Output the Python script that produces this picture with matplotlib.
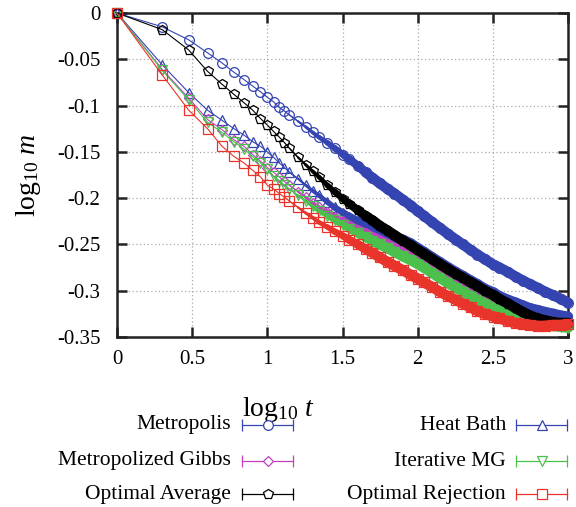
import matplotlib
matplotlib.use("Agg")
import matplotlib.pyplot as plt
from matplotlib.lines import Line2D
from matplotlib.collections import LineCollection
import numpy as np

plt.rcParams["font.family"] = ["Liberation Serif", "DejaVu Serif"]
plt.rcParams["mathtext.fontset"] = "custom"
plt.rcParams["mathtext.rm"] = "Liberation Serif"
plt.rcParams["mathtext.it"] = "Liberation Serif:italic"

# sweep counts t (x axis is log10 t)
t = [1, 2, 3, 4, 5, 6, 7, 8, 9, 10, 11, 12, 13, 14, 16, 18, 20, 22, 25, 28,
     32, 35, 40, 45, 50, 56, 63, 70, 80, 90, 100, 110, 125, 140, 160, 180,
     200, 225, 250, 280, 320, 350, 400, 450, 500, 560, 630, 700, 800, 900, 1000]

# log10 m
metropolis = [0, -.015, -.029, -.043, -.054, -.064, -.072, -.079, -.085, -.091,
              -.096, -.102, -.106, -.110, -.117, -.123, -.129, -.134, -.140, -.146,
              -.153, -.158, -.165, -.172, -.178, -.184, -.190, -.195, -.202, -.208,
              -.214, -.219, -.226, -.232, -.239, -.245, -.250, -.256, -.261, -.266,
              -.272, -.275, -.280, -.285, -.289, -.293, -.297, -.301, -.305, -.309, -.313]
heat_bath = [0, -.056, -.086, -.105, -.116, -.125, -.132, -.139, -.144, -.150,
             -.156, -.162, -.167, -.172, -.179, -.186, -.192, -.197, -.204, -.210,
             -.216, -.220, -.225, -.229, -.233, -.236, -.240, -.243, -.245, -.249,
             -.254, -.258, -.264, -.269, -.275, -.280, -.284, -.289, -.293, -.298,
             -.302, -.306, -.310, -.313, -.316, -.319, -.321, -.323, -.325, -.327, -.328]
metro_gibbs = [0, -.061, -.092, -.115, -.126, -.137, -.144, -.153, -.160, -.167,
               -.172, -.177, -.182, -.186, -.193, -.199, -.205, -.210, -.215, -.220,
               -.225, -.229, -.234, -.238, -.242, -.246, -.250, -.254, -.259, -.263,
               -.267, -.271, -.277, -.282, -.288, -.293, -.297, -.302, -.306, -.310,
               -.315, -.318, -.322, -.325, -.328, -.330, -.332, -.334, -.335, -.336, -.336]
iterative_mg = [0, -.062, -.094, -.118, -.129, -.139, -.147, -.155, -.162, -.169,
                -.176, -.181, -.186, -.190, -.197, -.203, -.209, -.214, -.219, -.224,
                -.229, -.233, -.238, -.242, -.246, -.250, -.254, -.258, -.263, -.267,
                -.271, -.275, -.281, -.286, -.292, -.297, -.301, -.306, -.310, -.314,
                -.319, -.322, -.326, -.329, -.331, -.333, -.335, -.337, -.338, -.339, -.340]
opt_average = [0, -.018, -.040, -.063, -.077, -.088, -.097, -.105, -.114, -.121,
               -.128, -.134, -.140, -.146, -.156, -.164, -.171, -.177, -.186, -.193,
               -.201, -.206, -.213, -.219, -.224, -.230, -.235, -.240, -.246, -.251,
               -.256, -.260, -.266, -.271, -.277, -.282, -.286, -.291, -.295, -.300,
               -.305, -.309, -.314, -.319, -.323, -.327, -.330, -.332, -.334, -.335, -.335]
opt_rejection = [0, -.067, -.105, -.125, -.144, -.155, -.162, -.170, -.177, -.186,
                 -.190, -.195, -.199, -.203, -.210, -.216, -.221, -.226, -.231, -.236,
                 -.241, -.245, -.250, -.255, -.259, -.264, -.269, -.273, -.278, -.283,
                 -.287, -.291, -.296, -.301, -.306, -.310, -.314, -.318, -.322, -.325,
                 -.328, -.330, -.333, -.335, -.336, -.337, -.338, -.338, -.337, -.337, -.336]

names = ["Metropolis", "Heat Bath", "Metropolized Gibbs", "Iterative MG",
         "Optimal Average", "Optimal Rejection"]
series = [metropolis, heat_bath, metro_gibbs, iterative_mg, opt_average, opt_rejection]
colors = ["#3444b0", "#3444b0", "#c040c0", "#4cc04c", "#000000", "#e8342a"]
markers = ["o", "^", "D", "v", "p", "s"]
msizes = [7, 7, 5.5, 7, 7, 7]

xticks = [0, 0.5, 1, 1.5, 2, 2.5, 3]
xtick_labels = ["0", "0.5", "1", "1.5", "2", "2.5", "3"]
yticks = [0, -0.05, -0.1, -0.15, -0.2, -0.25, -0.3, -0.35]
ytick_labels = ["0", "-0.05", "-0.1", "-0.15", "-0.2", "-0.25", "-0.3", "-0.35"]

W, H = 576, 507
fig = plt.figure(figsize=(W / 100, H / 100), dpi=100)
ax = fig.add_axes([117 / W, 1 - 337 / H, 451 / W, 324 / H])

x = np.log10(t)
xm = (x[:-1] + x[1:]) / 2
# markers pile up into a solid band as t grows; fade the band in
band_w = 7.5 * np.clip((xm - 1.1) / 0.6, 0, 1)
for k, (ys, c, m, ms) in enumerate(zip(series, colors, markers, msizes)):
    z = 3 + k * 0.1
    pts = np.column_stack([x, ys])
    segs = np.stack([pts[:-1], pts[1:]], axis=1)
    lc = LineCollection(segs, linewidths=band_w, colors=c, capstyle="round",
                        joinstyle="round", clip_on=False, zorder=z)
    ax.add_collection(lc)
    ax.plot(x, ys, color=c, lw=0.8, marker=m, ms=ms, mfc="none", mec=c, mew=0.9,
            clip_on=False, zorder=z)

ax.set_xlim(0, 3)
ax.set_ylim(-0.35, 0)
ax.set_xticks(xticks, xtick_labels)
ax.set_yticks(yticks, ytick_labels)
ax.tick_params(direction="in", length=7, width=1.8, top=True, right=True,
               labelsize=15, color="#222222")
ax.tick_params(axis="y", pad=12)
ax.tick_params(axis="x", pad=9)
ax.grid(True, color="#aaaaaa", lw=0.9, linestyle=(0, (1, 2)))
for s in ax.spines.values():
    s.set_linewidth(1.8)
    s.set_color("#222222")
    s.set_zorder(2.5)

ax.set_xlabel(r"$\log_{10}\,t$", fontsize=20)
ax.xaxis.set_label_coords(0.357, -0.18)
ax.set_ylabel(r"$\log_{10}\,m$", fontsize=20)
ax.yaxis.set_label_coords(-0.165, 0.5)

# gnuplot-style key below the plot, two columns
label_right = [231, 506]
sample_x = [(242, 293), (516, 567)]
row_y = [425, 461, 494]
for i, (name, c, m, ms) in enumerate(zip(names, colors, markers, msizes)):
    col, row = i % 2, i // 2
    yf = 1 - row_y[row] / H
    fig.text(label_right[col] / W, yf, name, ha="right", va="center", fontsize=15.5)
    x0, x1 = sample_x[col]
    fig.add_artist(Line2D([x0 / W, x1 / W], [yf, yf], transform=fig.transFigure,
                          color=c, lw=0.9))
    fig.add_artist(Line2D([x0 / W, x1 / W], [yf, yf], transform=fig.transFigure,
                          color=c, lw=0, marker="|", ms=8, mew=0.9))
    fig.add_artist(Line2D([(x0 + x1) / 2 / W], [yf], transform=fig.transFigure,
                          color=c, lw=0, marker=m, ms=ms, mfc="white", mec=c, mew=0.9))

fig.savefig("out.png", dpi=100)
